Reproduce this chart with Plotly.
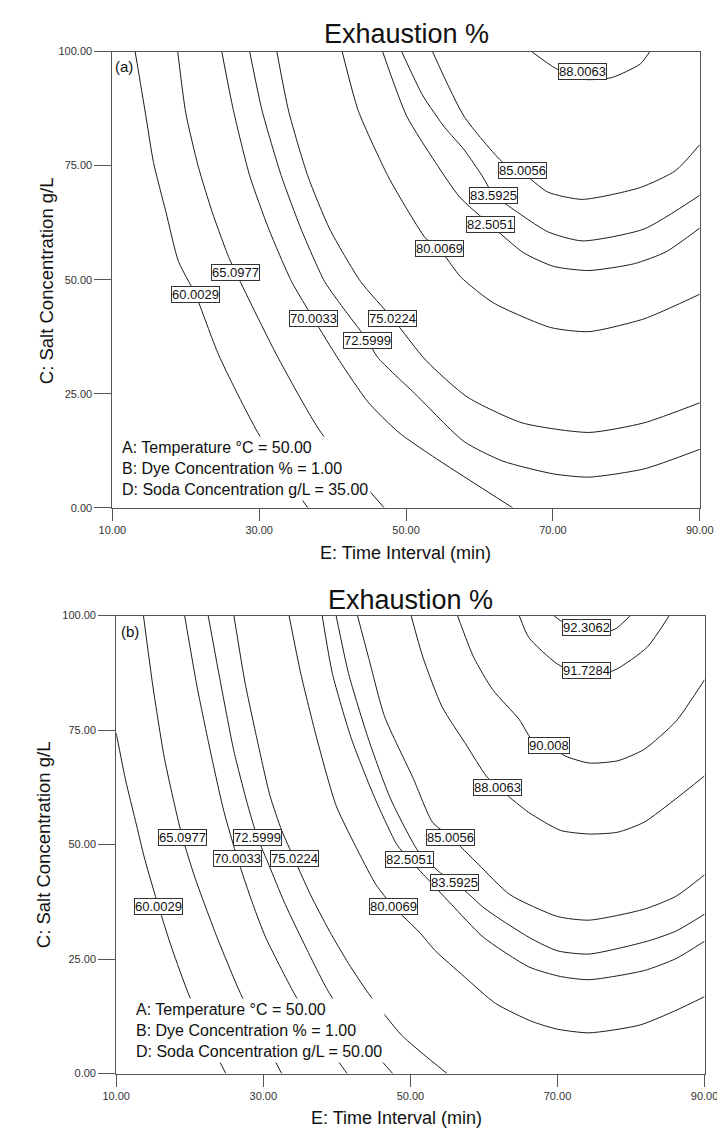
import plotly.graph_objects as go

W, H = 725, 1128
FONT = "Liberation Sans, Arial, sans-serif"

# ---------------- Panel (a): Soda 35 g/L ----------------
a_levels = ["60.0029", "65.0977", "70.0033", "72.5999", "75.0224",
            "80.0069", "82.5051", "83.5925", "85.0056", "88.0063"]

a_e_60 = [13.1, 14.5, 15.6, 17.3, 19.0, 21.3, 24.5, 29.8, 36.6]
a_c_60 = [100, 86.5, 75.7, 64.8, 54.0, 46.8, 33.4, 16.5, 0]
a_e_65 = [18.9, 20.0, 21.7, 23.6, 25.8, 26.8, 32.4, 38.4, 47.0]
a_c_65 = [100, 86.5, 74.8, 64.8, 55.1, 51.6, 33.4, 16.5, 0]
a_e_70 = [24.9, 26.5, 28.7, 31.3, 34.4, 37.4, 40.9, 44.8, 49.0, 53.6, 64.5]
a_c_70 = [100, 87.0, 72.8, 61.1, 49.6, 41.4, 32.3, 23.2, 16.5, 11.3, 0]
a_e_72 = [28.7, 30.4, 33.0, 35.7, 38.9, 41.8, 44.8, 46.1, 51.4, 57.9, 63.2, 70.1, 74.9, 82.4, 90]
a_c_72 = [100, 87.0, 72.8, 61.1, 49.6, 43.0, 36.6, 33.0, 24.7, 14.5, 10.2, 7.4, 6.7, 8.5, 12.8]
a_e_75 = [32.4, 34.0, 36.6, 39.6, 43.8, 48.2, 52.7, 58.3, 65.8, 74.9, 82.4, 90]
a_c_75 = [100, 87.0, 72.8, 61.1, 49.6, 41.4, 32.3, 24.3, 18.6, 16.5, 18.6, 23.0]
a_e_80 = [41.3, 43.5, 47.5, 50.1, 52.7, 54.5, 57.5, 61.9, 69.7, 74.9, 82.4, 90]
a_c_80 = [100, 87.0, 72.8, 65.5, 59.0, 56.8, 50.5, 44.9, 39.5, 38.6, 41.4, 46.8]
a_e_82 = [46.8, 50.1, 54.0, 57.3, 61.5, 66.0, 70.1, 74.9, 81.1, 85.4, 90]
a_c_82 = [100, 85.8, 75.7, 68.1, 62.0, 55.9, 52.9, 52.0, 53.5, 56.1, 61.3]
a_e_83 = [49.4, 52.3, 55.3, 57.9, 60.5, 61.9, 63.2, 69.3, 74.0, 82.4, 90]
a_c_83 = [100, 90.3, 83.3, 78.5, 72.4, 68.5, 67.0, 60.5, 58.5, 61.1, 68.5]
a_e_85 = [53.6, 57.9, 63.2, 65.8, 69.3, 74.0, 81.9, 86.7, 90]
a_c_85 = [100, 85.8, 75.7, 73.5, 69.2, 67.6, 70.2, 73.9, 79.6]
a_e_88 = [67.1, 70.4, 74.3, 78.0, 81.9, 83.2]
a_c_88 = [100, 96.3, 93.9, 94.3, 97.3, 100]

a_lab_e = [21.3, 26.8, 37.4, 44.8, 48.2, 54.5, 61.5, 61.9, 65.8, 74.0]
a_lab_c = [46.8, 51.6, 41.4, 36.6, 41.4, 56.8, 62.0, 68.5, 73.9, 95.6]

# ---------------- Panel (b): Soda 50 g/L ----------------
b_levels = ["60.0029", "65.0977", "70.0033", "72.5999", "75.0224", "80.0069",
            "82.5051", "83.5925", "85.0056", "88.0063", "90.008", "91.7284", "92.3062"]

b_e_60 = [10.0, 11.3, 12.6, 13.9, 15.75, 17.6, 19.8, 22.3, 24.9]
b_c_60 = [74.3, 63.9, 55.3, 46.7, 36.5, 27.2, 17.5, 8.4, 0]
b_e_65 = [13.7, 15.0, 16.5, 18.1, 19.0, 20.7, 23.7, 26.9, 32.5]
b_c_65 = [100, 84.4, 69.3, 57.5, 51.6, 42.8, 29.8, 17.5, 0]
b_e_70 = [19.3, 21.0, 22.8, 24.6, 26.5, 28.6, 30.3, 34.2, 37.7, 41.4]
b_c_70 = [100, 84.4, 70.4, 57.5, 46.9, 36.9, 29.8, 17.5, 8.4, 0]
b_e_72 = [22.5, 24.3, 26.0, 27.9, 29.2, 30.8, 32.8, 35.1, 39.0, 43.2, 47.6]
b_c_72 = [100, 84.4, 70.4, 58.5, 51.6, 45.4, 37.6, 29.8, 17.5, 8.2, 0]
b_e_75 = [26.0, 27.5, 29.2, 30.9, 32.5, 34.2, 36.4, 39.0, 41.6, 44.3, 48.8, 55.0]
b_c_75 = [100, 85.5, 72.6, 60.7, 53.1, 46.9, 39.1, 31.1, 24.0, 17.5, 8.4, 0]
b_e_80 = [33.5, 35.1, 37.3, 39.9, 43.0, 45.3, 47.65, 51.2, 53.4, 57.3, 61.6, 66.5, 70.0, 74.3, 81.2, 86.1, 90]
b_c_80 = [100, 87.3, 73.0, 58.5, 48.2, 41.3, 36.5, 30.9, 26.8, 21.2, 15.3, 11.4, 9.7, 8.9, 10.6, 13.8, 16.8]
b_e_82 = [38.0, 39.4, 42.0, 45.2, 48.2, 49.9, 52.8, 55.6, 59.9, 66.1, 70.4, 74.3, 81.8, 86.1, 90]
b_c_82 = [100, 87.3, 73.0, 60.0, 49.9, 46.7, 41.7, 36.9, 29.8, 23.3, 21.2, 20.5, 22.5, 25.1, 28.9]
b_e_83 = [39.9, 41.6, 44.3, 47.3, 51.2, 54.1, 56.0, 58.0, 59.9, 62.6, 66.5, 70.0, 74.3, 82.2, 86.1, 90]
b_c_83 = [100, 87.3, 73.0, 60.0, 48.2, 43.8, 41.7, 39.1, 36.3, 33.3, 29.4, 26.8, 26.1, 28.9, 31.1, 34.8]
b_e_85 = [42.8, 44.3, 46.5, 50.4, 53.0, 55.5, 59.3, 63.5, 70.0, 74.3, 81.8, 86.1, 90]
b_c_85 = [100, 90.9, 77.9, 64.4, 54.9, 51.6, 45.6, 39.1, 34.3, 33.5, 35.9, 38.7, 43.4]
b_e_88 = [50.1, 51.7, 54.3, 57.7, 60.3, 61.9, 62.9, 66.1, 70.4, 74.3, 78.2, 81.8, 86.1, 90]
b_c_88 = [100, 90.9, 80.1, 71.5, 65.0, 62.4, 61.1, 57.0, 53.1, 52.3, 52.7, 54.9, 60.0, 65.0]
b_e_90 = [56.4, 58.6, 61.2, 64.8, 66.5, 68.8, 71.1, 74.3, 78.2, 81.8, 86.1, 90]
b_c_90 = [100, 90.9, 83.8, 77.3, 73.0, 71.7, 69.3, 67.8, 68.3, 70.8, 76.9, 86.0]
b_e_91 = [64.8, 66.1, 70.0, 74.05, 77.8, 82.2, 85.2]
b_c_91 = [100, 95.2, 89.4, 86.8, 88.1, 93.1, 100]
b_e_92 = [69.5, 70.4, 74.05, 77.8, 79.9]
b_c_92 = [100, 98.9, 95.9, 97.0, 100]

b_lab_e = [15.75, 19.0, 26.5, 29.2, 34.2, 47.65, 49.9, 56.0, 55.5, 61.9, 68.8, 73.9, 73.9]
b_lab_c = [36.5, 51.6, 46.9, 51.6, 46.9, 36.5, 46.7, 41.7, 51.6, 62.4, 71.7, 88.1, 97.4]

x_ticks = [10, 30, 50, 70, 90]
y_ticks = [0, 25, 50, 75, 100]

title_text = "Exhaustion %"
x_title = "E: Time Interval (min)"
y_title = "C: Salt Concentration g/L"
a_note = "A: Temperature °C = 50.00<br>B: Dye Concentration % = 1.00<br>D: Soda Concentration g/L = 35.00"
b_note = "A: Temperature °C = 50.00<br>B: Dye Concentration % = 1.00<br>D: Soda Concentration g/L = 50.00"

a_lines = [(a_e_60, a_c_60), (a_e_65, a_c_65), (a_e_70, a_c_70), (a_e_72, a_c_72),
           (a_e_75, a_c_75), (a_e_80, a_c_80), (a_e_82, a_c_82), (a_e_83, a_c_83),
           (a_e_85, a_c_85), (a_e_88, a_c_88)]
b_lines = [(b_e_60, b_c_60), (b_e_65, b_c_65), (b_e_70, b_c_70), (b_e_72, b_c_72),
           (b_e_75, b_c_75), (b_e_80, b_c_80), (b_e_82, b_c_82), (b_e_83, b_c_83),
           (b_e_85, b_c_85), (b_e_88, b_c_88), (b_e_90, b_c_90), (b_e_91, b_c_91),
           (b_e_92, b_c_92)]

fig = go.Figure()
LINE = dict(color="#1c1c1c", width=1, shape="spline", smoothing=0.6)

for (e, c) in a_lines:
    fig.add_trace(go.Scatter(x=e, y=c, mode="lines", line=LINE, xaxis="x", yaxis="y",
                             hoverinfo="skip", showlegend=False))
for (e, c) in b_lines:
    fig.add_trace(go.Scatter(x=e, y=c, mode="lines", line=LINE, xaxis="x2", yaxis="y2",
                             hoverinfo="skip", showlegend=False))

annotations = []
LAB_FONT = dict(family=FONT, size=13, color="#111")
for t, e, c in zip(a_levels, a_lab_e, a_lab_c):
    annotations.append(dict(x=e, y=c, xref="x", yref="y", text=t, showarrow=False,
                            xanchor="center", yanchor="middle",
                            bgcolor="white", bordercolor="#333", borderwidth=1, borderpad=0,
                            font=LAB_FONT))
for t, e, c in zip(b_levels, b_lab_e, b_lab_c):
    annotations.append(dict(x=e, y=c, xref="x2", yref="y2", text=t, showarrow=False,
                            xanchor="center", yanchor="middle",
                            bgcolor="white", bordercolor="#333", borderwidth=1, borderpad=0,
                            font=LAB_FONT))


def px(x):
    return x / W


def py(y):
    return 1 - y / H


def txt(text, x, y, size, **kw):
    d = dict(text=text, x=px(x), y=py(y), xref="paper", yref="paper", showarrow=False,
             xanchor="center", yanchor="middle",
             font=dict(family=FONT, size=size, color="#111"))
    d.update(kw)
    return d


annotations += [
    txt(title_text, 399.5, 20, 27),
    txt(title_text, 404, 592, 27),
    txt(x_title, 399, 545, 18),
    txt(x_title, 390, 1116, 18),
    txt(y_title, 25, 270, 18.5, textangle=-90),
    txt(y_title, 22, 840, 18.5, textangle=-90),
    txt("(a)", 106, 53, 15),
    txt("(b)", 112, 624, 15),
    txt(a_note, 101, 427, 16, xanchor="left", yanchor="top", align="left",
        bgcolor="white", borderpad=2),
    txt(b_note, 115, 995, 16, xanchor="left", yanchor="top", align="left",
        bgcolor="white", borderpad=2),
]

AX = dict(showline=True, mirror=True, linecolor="#555", linewidth=1, ticks="outside",
          tickcolor="#555", tickwidth=1, showgrid=False, zeroline=False,
          tickfont=dict(family=FONT, size=11, color="#333"), tickformat=".2f")

fig.update_layout(
    width=W, height=H, margin=dict(l=0, r=0, t=0, b=0),
    paper_bgcolor="white", plot_bgcolor="white", showlegend=False,
    xaxis=dict(AX, domain=[px(94), px(705)], anchor="y", range=[10, 90],
               tickvals=x_ticks, ticklen=12),
    yaxis=dict(AX, domain=[py(499), py(38)], anchor="x", range=[0, 100],
               tickvals=y_ticks, ticklen=17),
    xaxis2=dict(AX, domain=[px(98), px(710)], anchor="y2", range=[10, 90],
                tickvals=x_ticks, ticklen=12),
    yaxis2=dict(AX, domain=[py(1071), py(608)], anchor="x2", range=[0, 100],
                tickvals=y_ticks, ticklen=17),
    annotations=annotations,
)

fig.write_html("out.html")
